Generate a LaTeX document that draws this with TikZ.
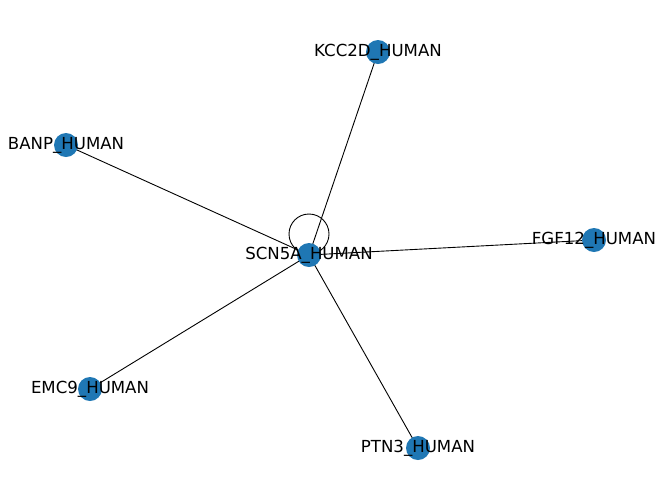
\documentclass[tikz,border=0pt]{standalone}
\usepackage{fontspec}
\setmainfont{DejaVu Sans}
\begin{document}
\begin{tikzpicture}[x=1pt,y=-1pt,
  vert/.style={circle,fill=nodeblue,minimum size=24pt,inner sep=0pt},
  lbl/.style={font=\fontsize{16.6}{18}\selectfont,inner sep=0pt},
  edge/.style={draw=black,line width=0.9pt}]
\definecolor{nodeblue}{HTML}{1F77B4}
\useasboundingbox (0,0) rectangle (660,499);
\coordinate (c) at (309,255);
\coordinate (k) at (378,52);
\coordinate (b) at (66,145);
\coordinate (f) at (594,240);
\coordinate (e) at (90,389);
\coordinate (p) at (418,448);
\foreach \t in {k,b,f,e,p} \draw[edge] (c) -- (\t);
\draw[edge] (309,234) circle (20);
\foreach \t in {c,k,b,f,e,p} \node[vert] (n\t) at (\t) {};
\node[lbl] (lc) at (c) {SCN5A\_HUMAN};
\node[lbl] (lk) at (k) {KCC2D\_HUMAN};
\node[lbl] (lb) at (b) {BANP\_HUMAN};
\node[lbl] (lf) at (f) {FGF12\_HUMAN};
\node[lbl] (le) at (e) {EMC9\_HUMAN};
\node[lbl] (lp) at (p) {PTN3\_HUMAN};
\end{tikzpicture}
\end{document}
